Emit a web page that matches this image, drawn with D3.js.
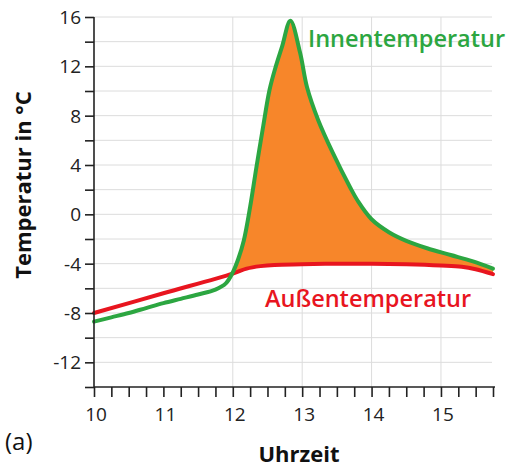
<!DOCTYPE html>
<html>
<head>
<meta charset="utf-8">
<script src="https://cdn.jsdelivr.net/npm/d3@7"></script>
<style>
  html, body { margin: 0; padding: 0; background: #fff; }
  svg { display: block; font-family: "Open Sans", "Noto Sans", sans-serif; }
  .tick-label { font-size: 19px; fill: #222; }
</style>
</head>
<body>
<svg id="chart" width="507" height="468"></svg>
<script>
// Innentemperatur (green), hour -> °C
const innenHours = [10, 10.25, 10.5, 10.75, 11, 11.25, 11.5, 11.75, 11.9, 12, 12.08, 12.16, 12.25, 12.34, 12.44, 12.53, 12.62, 12.71, 12.83, 12.97, 13.07, 13.23, 13.44, 13.69, 13.8, 14.0, 14.25, 14.5, 14.8, 15.14, 15.45, 15.75];
const innenTemps = [-8.7, -8.35, -8.0, -7.6, -7.2, -6.85, -6.5, -6.1, -5.6, -4.7, -3.6, -2.1, 0.6, 3.8, 7.2, 10.1, 12.0, 13.6, 15.7, 13.1, 10.3, 7.65, 5.0, 2.2, 1.1, -0.4, -1.45, -2.15, -2.75, -3.3, -3.8, -4.4];

// Außentemperatur (red)
const aussenHours = [10, 11, 12, 12.2, 12.4, 12.6, 13, 13.5, 14, 14.5, 15, 15.3, 15.5, 15.75];
const aussenTemps = [-8.0, -6.4, -4.8, -4.4, -4.2, -4.1, -4.05, -4.0, -4.0, -4.05, -4.15, -4.25, -4.45, -4.85];

const xMajorTicks = [10, 11, 12, 13, 14, 15];
const yMajorTicks = [-12, -8, -4, 0, 4, 8, 12, 16];
const xGridLines = [12, 13, 14, 15];

const svg = d3.select("#chart");
const x = d3.scaleLinear().domain([10, 15.75]).range([94, 493]);
const y = d3.scaleLinear().domain([-14, 16]).range([387, 17]);

const innen = innenHours.map((h, i) => ({ x: h, y: innenTemps[i] }));
const aussen = aussenHours.map((h, i) => ({ x: h, y: aussenTemps[i] }));

const gridG = svg.append("g");
gridG.selectAll("line.h")
  .data(d3.range(-12, 17, 2))
  .join("line")
  .attr("x1", x(10)).attr("x2", 492)
  .attr("y1", (d) => y(d)).attr("y2", (d) => y(d))
  .attr("stroke", "#dcdcdc").attr("stroke-width", 1);
gridG.selectAll("line.v")
  .data(xGridLines)
  .join("line")
  .attr("x1", (d) => x(d)).attr("x2", (d) => x(d))
  .attr("y1", y(16)).attr("y2", y(-14))
  .attr("stroke", "#dcdcdc").attr("stroke-width", 1);

const curve = d3.curveCatmullRom.alpha(0.5);
const line = d3.line().x((d) => x(d.x)).y((d) => y(d.y)).curve(curve);

// fill: area under green, clipped to region above red
const defs = svg.append("defs");
defs.append("clipPath").attr("id", "above-red")
  .append("path")
  .datum(aussen)
  .attr("d", d3.area().x((d) => x(d.x)).y0(0).y1((d) => y(d.y)).curve(curve));

svg.append("path")
  .datum(innen)
  .attr("clip-path", "url(#above-red)")
  .attr("fill", "#f7862a")
  .attr("d", d3.area().x((d) => x(d.x)).y0(y(-14)).y1((d) => y(d.y)).curve(curve));

svg.append("path").datum(aussen)
  .attr("fill", "none").attr("stroke", "#e8151f").attr("stroke-width", 4)
  .attr("stroke-linecap", "round").attr("d", line);
svg.append("path").datum(innen)
  .attr("fill", "none").attr("stroke", "#2ca641").attr("stroke-width", 4)
  .attr("stroke-linecap", "round").attr("stroke-linejoin", "round").attr("d", line);

// axes
const xAxis = d3.axisBottom(x)
  .tickValues(d3.range(0, 24).map((i) => 10 + i * 0.25))
  .tickSize(10).tickFormat("");
const xAxisG = svg.append("g").attr("transform", `translate(0,${y(-14)})`).call(xAxis);
const yAxis = d3.axisLeft(y).tickValues(d3.range(-14, 17, 2)).tickSize(9).tickFormat("");
const yAxisG = svg.append("g").attr("transform", `translate(${x(10)},0)`).call(yAxis);
[xAxisG, yAxisG].forEach((g) => {
  g.select(".domain").attr("stroke", "#222").attr("stroke-width", 1.6);
  g.selectAll(".tick line").attr("stroke", "#222").attr("stroke-width", 1.6);
});
xAxisG.select(".domain").attr("d", `M${x(10)},0H${x(15.75) + 2}`);
yAxisG.select(".domain").attr("d", `M0,${y(16)}V${y(-14)}`);

svg.append("g").selectAll("text")
  .data(xMajorTicks)
  .join("text")
  .attr("class", "tick-label")
  .attr("x", (d) => x(d) + 2).attr("y", 421)
  .attr("text-anchor", "middle")
  .text((d) => d);

svg.append("g").selectAll("text")
  .data(yMajorTicks)
  .join("text")
  .attr("class", "tick-label")
  .attr("x", 81).attr("y", (d) => y(d) + 7)
  .attr("text-anchor", "end")
  .text((d) => d);

svg.append("text")
  .attr("transform", `translate(31,185) rotate(-90)`)
  .attr("text-anchor", "middle")
  .attr("font-size", 22).attr("font-weight", 700).attr("fill", "#111")
  .text("Temperatur in °C");

svg.append("text")
  .attr("x", 299).attr("y", 462)
  .attr("text-anchor", "middle")
  .attr("font-size", 22).attr("font-weight", 700).attr("fill", "#111")
  .text("Uhrzeit");

svg.append("text")
  .attr("x", 5).attr("y", 450)
  .attr("font-size", 24).attr("fill", "#111")
  .text("(a)");

svg.append("text")
  .attr("x", 308).attr("y", 47)
  .attr("font-size", 23.5).attr("font-weight", 600).attr("fill", "#2ca641")
  .text("Innentemperatur");

svg.append("text")
  .attr("x", 265).attr("y", 307)
  .attr("font-size", 23.5).attr("font-weight", 600).attr("fill", "#e8151f")
  .text("Außentemperatur");
</script>
</body>
</html>
